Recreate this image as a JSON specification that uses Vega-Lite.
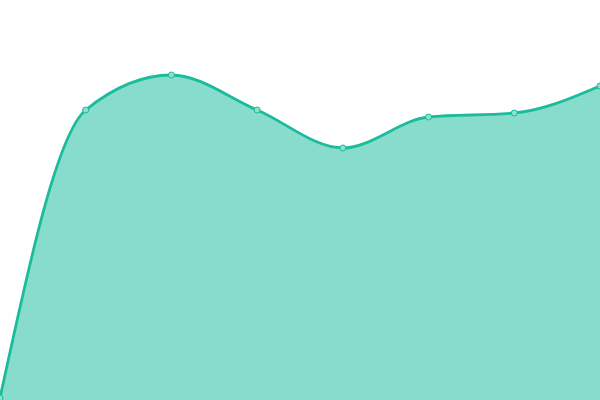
{
  "$schema": "https://vega.github.io/schema/vega-lite/v6.json",
  "autosize": {"type": "none"},
  "width": 600,
  "height": 400,
  "padding": 0,
  "background": "white",
  "config": {"view": {"stroke": null}},
  "data": {
    "values": [
      {"i": 0, "v": 2},
      {"i": 1, "v": 290},
      {"i": 2, "v": 325},
      {"i": 3, "v": 290},
      {"i": 4, "v": 252},
      {"i": 5, "v": 283},
      {"i": 6, "v": 287},
      {"i": 7, "v": 314}
    ]
  },
  "encoding": {
    "x": {"field": "i", "type": "quantitative", "scale": {"domain": [0, 7], "nice": false}, "axis": null},
    "y": {"field": "v", "type": "quantitative", "scale": {"domain": [0, 400], "nice": false}, "axis": null}
  },
  "layer": [
    {"mark": {"type": "area", "interpolate": "monotone", "color": "#1abc9c", "opacity": 0.52}},
    {"mark": {"type": "line", "interpolate": "monotone", "color": "#1abc9c", "strokeWidth": 2.8}},
    {"mark": {"type": "point", "filled": true, "fill": "#8ce0cf", "stroke": "#1abc9c", "strokeWidth": 1, "size": 36, "opacity": 1}}
  ]
}
